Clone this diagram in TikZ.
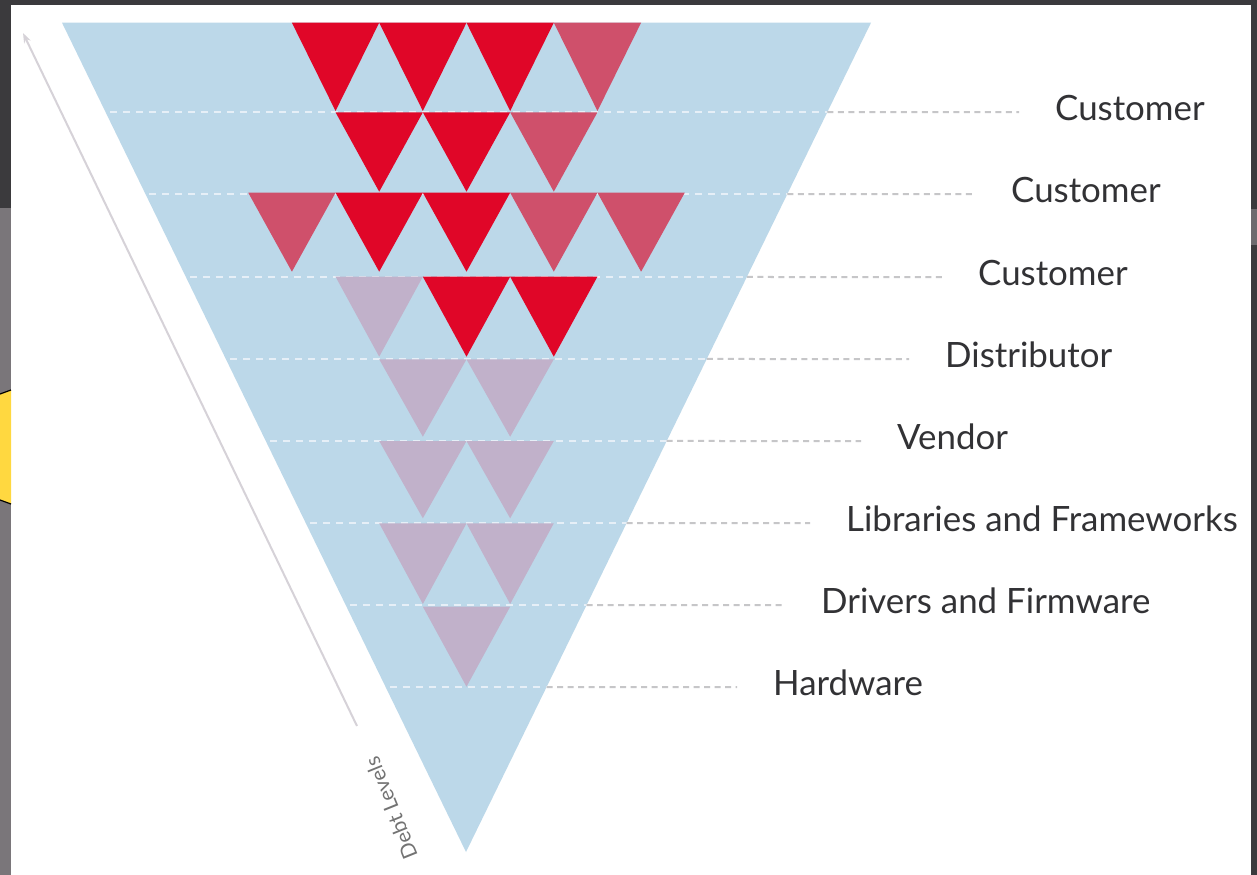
\documentclass[tikz,border=0pt]{standalone}
\usepackage{fontspec}
\setmainfont{Lato}
\usetikzlibrary{arrows.meta,calc}

\definecolor{framedark}{RGB}{59,58,61}
\definecolor{framegray}{RGB}{122,118,122}
\definecolor{bubble}{RGB}{255,216,64}
\definecolor{sky}{RGB}{188,216,233}
\definecolor{debtred}{RGB}{224,6,40}
\definecolor{debtpink}{RGB}{207,80,107}
\definecolor{debtmauve}{RGB}{193,177,202}
\definecolor{dashgray}{RGB}{198,198,200}
\definecolor{dashlight}{RGB}{230,239,247}
\definecolor{labeltext}{RGB}{50,50,53}
\definecolor{axisgray}{RGB}{214,210,216}

\tikzset{
  levelline/.style={dashgray, line width=2bp, dash pattern=on 6bp off 4.5bp},
  innerline/.style={dashlight, line width=1.7bp, dash pattern=on 7bp off 6bp},
  levellabel/.style={anchor=base west, inner sep=0pt, text=labeltext, font=\fontsize{35}{38}\selectfont},
  axislabel/.style={inner sep=0pt, text=gray!90!black, font=\fontsize{21}{23}\selectfont},
}

\begin{document}
\begin{tikzpicture}[x=1bp, y=-1bp]
\useasboundingbox (0,0) rectangle (1257,875);

% surrounding screen and slide
\fill[framedark] (0,0) rectangle (1257,875);
\fill[framegray] (0,208) rectangle (11,875);
\fill[framegray!80!framedark] (1251,209) rectangle (1257,245);
\fill[white] (11,5) rectangle (1251,875);

% edge of a yellow callout peeking in from the left
\fill[bubble] (0,394) -- (11,390) -- (11,504) -- (0,500) -- cycle;
\draw[black, line width=1.2bp] (0,394) -- (11,390);
\draw[black, line width=1.2bp] (0,500) -- (11,504);

% the inverted pyramid
\coordinate (TL) at (62,22.7);
\coordinate (TR) at (871,22.7);
\coordinate (BA) at (466,852);
\fill[sky] (TL) -- (TR) -- (BA) -- cycle;

% level lines: light dashes inside the pyramid
\foreach \y [count=\i] in {112,194,277,359,441,523,605,687}{
  \pgfmathsetmacro\t{(\y-22.7)/829.3}
  \coordinate (L\i) at ($(TL)!\t!(BA)+(4,0)$);
  \coordinate (R\i) at ($(TR)!\t!(BA)$);
  \draw[innerline] (L\i) -- (R\i);
}

% triangles, row by row: top / apex / column / colour
\foreach \top/\ap/\m/\c in {
  22.7/111/-3/debtred, 22.7/111/-1/debtred, 22.7/111/1/debtred, 22.7/111/3/debtpink,
  112.3/191.7/-2/debtred, 112.3/191.7/0/debtred, 112.3/191.7/2/debtpink,
  192.7/271.7/-4/debtpink, 192.7/271.7/-2/debtred, 192.7/271.7/0/debtred,
  192.7/271.7/2/debtpink, 192.7/271.7/4/debtpink,
  276.7/356.7/-2/debtmauve, 276.7/356.7/0/debtred, 276.7/356.7/2/debtred,
  359.3/436.7/-1/debtmauve, 359.3/436.7/1/debtmauve,
  441/518.3/-1/debtmauve, 441/518.3/1/debtmauve,
  523.3/604/-1/debtmauve, 523.3/604/1/debtmauve,
  606.7/686.7/0/debtmauve}{
  \fill[\c] ({466.5+(\m-1)*43.65},\top) -- ({466.5+(\m+1)*43.65},\top)
            -- ({466.5+\m*43.65},\ap) -- cycle;
}

% level labels with their dashed leaders
\foreach \y/\lx/\txt [count=\i] in {
  112/1055/Customer, 194/1011/Customer, 277/978/Customer,
  359/945/Distributor, 441/897/Vendor, 523/846/Libraries and Frameworks,
  605/821/Drivers and Firmware, 687/773/Hardware}{
  \coordinate (E\i) at ({\lx-36},\y);
  \node[levellabel] (lab\i) at (\lx,{\y+8.5}) {\txt};
  \draw[levelline] (R\i) -- (E\i);
}

% debt axis
\coordinate (axisfoot) at (357,726);
\coordinate (axishead) at (23,33);
\draw[axisgray, line width=2bp, -{Stealth[length=10bp, width=7bp]}] (axisfoot) -- (axishead);
\node[axislabel, rotate=112] (axis) at (391,808) {Debt Levels};

\end{tikzpicture}
\end{document}
